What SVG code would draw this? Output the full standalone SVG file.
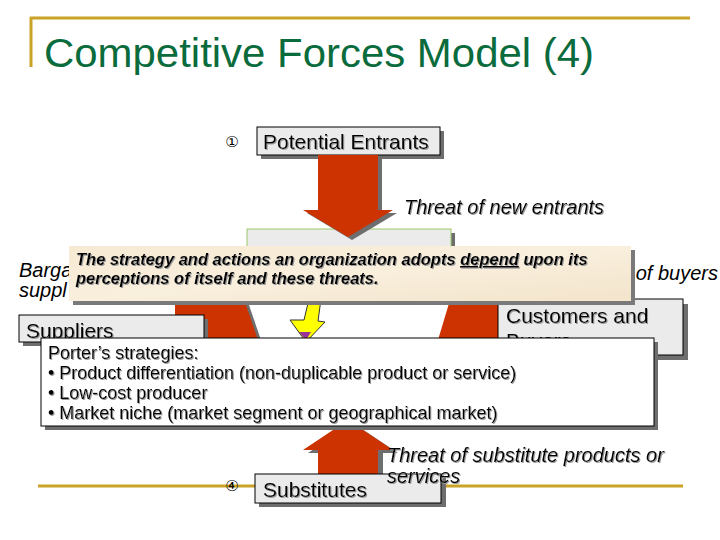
<svg xmlns="http://www.w3.org/2000/svg" width="720" height="540" viewBox="0 0 720 540">
<defs>
<style>
.gold{stroke:#C9A227;stroke-width:3;fill:none}
.box{fill:#EBEBEB;stroke:#000;stroke-width:1}
.shadow{fill:#6E6E6E}
.red{fill:#CC3300}
.lbl{font-family:"Liberation Sans",Arial,sans-serif;font-size:21px;fill:#000}
.it{font-family:"Liberation Sans",Arial,sans-serif;font-size:20px;font-style:italic;fill:#000}
.num{font-family:"DejaVu Sans",sans-serif;font-size:15px;fill:#000}
.note{font-family:"Liberation Sans",Arial,sans-serif;font-size:16.5px;font-style:italic;font-weight:bold;fill:#000}
.porter{font-family:"Liberation Sans",Arial,sans-serif;font-size:18px;fill:#000}
</style>
<filter id="ts" x="-5%" y="-20%" width="110%" height="140%">
<feDropShadow dx="1" dy="1" stdDeviation="0" flood-color="#9a9a9a"/>
</filter>
<linearGradient id="parch" x1="0" y1="0" x2="1" y2="1">
<stop offset="0" stop-color="#F7EAD3"/>
<stop offset="0.5" stop-color="#F9EFDD"/>
<stop offset="1" stop-color="#F3E4CB"/>
</linearGradient>
</defs>
<rect width="720" height="540" fill="#FFFFFF"/>

<g id="title">
<line class="gold" x1="30" y1="18" x2="690" y2="18"/>
<line class="gold" x1="31" y1="17" x2="31" y2="67"/>
<text x="44" y="67" font-family="'Liberation Sans',Arial,sans-serif" font-size="41" fill="#0A6B3C" textLength="550" lengthAdjust="spacingAndGlyphs">Competitive Forces Model (4)</text>
</g>

<g id="bottom-rule">
<line class="gold" x1="38" y1="486" x2="683" y2="486"/>
</g>

<g id="potential-entrants">
<text class="num" x="232" y="147" text-anchor="middle">①</text>
<rect class="shadow" x="261" y="131" width="183" height="28"/>
<rect class="box" x="257" y="127" width="183" height="28"/>
<text class="lbl" x="263" y="149" filter="url(#ts)">Potential Entrants</text>
</g>

<g id="firm">
<rect class="shadow" x="251" y="233" width="204" height="60"/>
<rect x="247" y="229" width="204" height="60" fill="#EBEBEB" stroke="#9CC86A" stroke-width="1"/>
</g>

<g id="connectors">
<polygon class="shadow" points="322,158 382,158 382,213 397,213 352,240 307,213 322,213"/>
<polygon class="red" points="318,155 378,155 378,210 393,210 348,237 303,210 318,210"/>
<polygon class="shadow" points="179,273 238,273 262,343 179,343"/>
<polygon class="red" points="175,270 234,270 258,340 175,340"/>
<polygon class="shadow" points="463,273 504,273 504,343 442,343"/>
<polygon class="red" points="459,270 500,270 500,340 438,340"/>
<polygon class="shadow" points="353,423 398,453 383,453 383,479 323,479 323,453 308,453"/>
<polygon class="red" points="348,420 393,450 378,450 378,476 318,476 318,450 303,450"/>
<polygon points="309,299 321,299 318,321 325,322 306,342 290,320 304,320" fill="#FFFF00" stroke="#333333" stroke-width="1"/>
<polygon points="299,332 311,332 306,340" fill="#993399"/>
</g>

<g id="labels">
<text class="it" x="404" y="214" filter="url(#ts)">Threat of new entrants</text>
<text class="it" x="19" y="277">Barga</text>
<text class="it" x="19" y="297">suppl</text>
<text class="it" x="718" y="280" text-anchor="end">of buyers</text>
</g>

<g id="suppliers">
<rect class="shadow" x="23" y="319" width="185" height="27"/>
<rect class="box" x="19" y="315" width="185" height="27"/>
<text class="lbl" x="26" y="338" filter="url(#ts)">Suppliers</text>
</g>

<g id="customers">
<rect class="shadow" x="503" y="304" width="185" height="56"/>
<rect class="box" x="498" y="299" width="185" height="56"/>
<text class="lbl" x="506" y="323" filter="url(#ts)">Customers and</text>
<text class="lbl" x="506" y="348" filter="url(#ts)">Buyers</text>
</g>

<g id="note">
<rect x="73" y="250" width="562" height="55" fill="#7A7A7A"/>
<rect x="69" y="246" width="562" height="55" fill="url(#parch)"/>
<text class="note" x="76" y="265" filter="url(#ts)">The strategy and actions an organization adopts <tspan text-decoration="underline">depend</tspan> upon its</text>
<text class="note" x="76" y="284" filter="url(#ts)">perceptions of itself and these threats.</text>
</g>

<g id="porter">
<rect class="shadow" x="45" y="342" width="613" height="88"/>
<rect x="41" y="338" width="613" height="88" fill="#FFFFFF" stroke="#000" stroke-width="1"/>
<text class="porter" x="48" y="359" filter="url(#ts)">Porter’s strategies:</text>
<text class="porter" x="48" y="379" filter="url(#ts)">• Product differentiation (non-duplicable product or service)</text>
<text class="porter" x="48" y="399" filter="url(#ts)">• Low-cost producer</text>
<text class="porter" x="48" y="419" filter="url(#ts)">• Market niche (market segment or geographical market)</text>
</g>

<g id="substitutes">
<text class="num" x="232" y="491" text-anchor="middle">④</text>
<rect class="shadow" x="259" y="478" width="187" height="29"/>
<rect class="box" x="255" y="474" width="186" height="29"/>
<text class="lbl" x="263" y="497" filter="url(#ts)">Substitutes</text>
<text class="it" x="387" y="462" filter="url(#ts)">Threat of substitute products or</text>
<text class="it" x="387" y="483" filter="url(#ts)">services</text>
</g>
</svg>
